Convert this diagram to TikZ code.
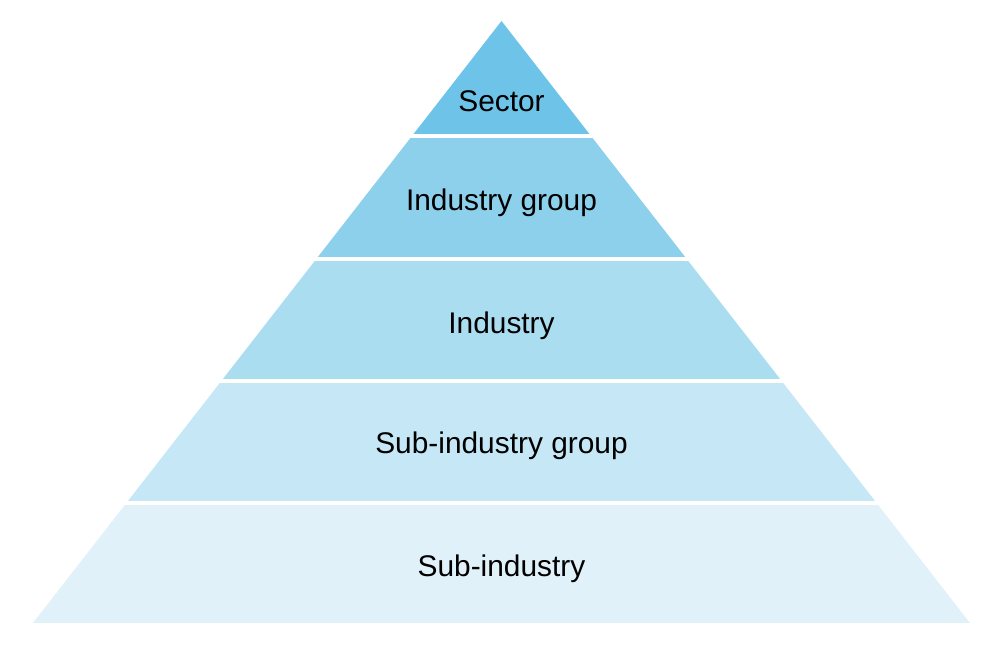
\documentclass[tikz,border=0pt]{standalone}
\usepackage{fontspec}
\setmainfont{Liberation Sans}
\usetikzlibrary{positioning}
\definecolor{LayerA}{RGB}{110,196,232}
\definecolor{LayerB}{RGB}{141,208,236}
\definecolor{LayerC}{RGB}{171,221,241}
\definecolor{LayerD}{RGB}{198,231,246}
\definecolor{LayerE}{RGB}{224,241,249}

\begin{document}
\begin{tikzpicture}[
lbl/.style={font=\fontsize{17}{20}\selectfont,text=black,inner sep=0pt}
]
\useasboundingbox (0,0) rectangle (20,13.06);
\coordinate (apex) at (10.03,12.64);
\coordinate (bl) at (0.66,0.60);
\coordinate (br) at (19.40,0.60);
\begin{scope}
\clip (apex) -- (bl) -- (br) -- cycle;
\fill[LayerA] (0,10.38) rectangle (20,12.70);
\fill[LayerB] (0,7.92) rectangle (20,10.30);
\fill[LayerC] (0,5.48) rectangle (20,7.84);
\fill[LayerD] (0,3.04) rectangle (20,5.40);
\fill[LayerE] (0,0.60) rectangle (20,2.96);
\end{scope}
\node[lbl] (sector) at (10.03,11.04) {Sector};
\node[lbl] (group) at (10.03,9.00) {Industry group};
\node[lbl] (industry) at (10.03,6.54) {Industry};
\node[lbl] (subgroup) at (10.03,4.14) {Sub-industry group};
\node[lbl] (sub) at (10.03,1.68) {Sub-industry};
\end{tikzpicture}
\end{document}
